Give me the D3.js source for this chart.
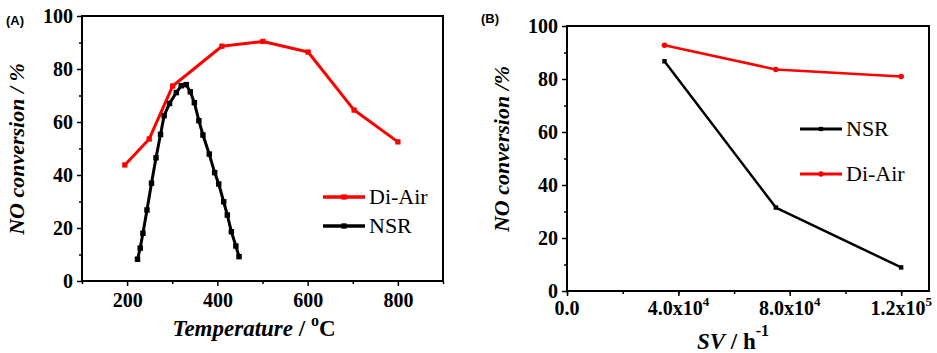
<!DOCTYPE html>
<html>
<head>
<meta charset="utf-8">
<script src="https://cdn.jsdelivr.net/npm/d3@7"></script>
</head>
<body style="margin:0;background:#fff">
<svg width="937" height="353" style="display:block"></svg>
<script>
"use strict";

// panel A: NO conversion vs temperature
var diAirTemp = [195, 249, 301, 410, 501, 601, 703, 800];
var diAirConvA = [43.8, 53.6, 73.6, 88.6, 90.4, 86.4, 64.5, 52.5];

var nsrTemp = [223, 229, 235, 244, 254, 264, 274, 282, 294, 309, 320, 331,
               340, 349, 359, 368, 382, 394, 403, 414, 422, 431, 441, 448];
var nsrConvA = [8.2, 12.4, 18.0, 26.8, 36.9, 46.5, 55.3, 62.4, 67.0, 71.1, 73.7, 74.1,
                71.4, 67.3, 60.5, 55.1, 47.9, 40.9, 36.6, 29.9, 24.9, 18.6, 13.2, 9.2];

// panel B: NO conversion vs space velocity
var svValues = [35000, 75000, 120000];
var nsrConvB = [86.7, 31.5, 8.9];
var diAirConvB = [92.7, 83.6, 80.9];

var yTicks = [0, 20, 40, 60, 80, 100];
var xTicksA = [200, 400, 600, 800];
var xTicksB = [0, 40000, 80000, 120000];
var xTickTextB = [["0.0", ""], ["4.0x10", "4"], ["8.0x10", "4"], ["1.2x10", "5"]];

var SERIF = "Liberation Serif";
var SANS = "Liberation Sans";

var svg = d3.select("svg");

function boldLabels(sel) {
  sel.attr("font-family", SERIF).attr("font-weight", "bold")
    .attr("font-size", 20).attr("fill", "#000");
}

function panel(o) {
  var x = d3.scaleLinear().domain(o.xDomain).range([o.left, o.right]);
  var y = d3.scaleLinear().domain([0, 100]).range([o.bottom, o.top]);
  var g = svg.append("g");

  // minor ticks
  g.append("g").attr("transform", "translate(0," + o.bottom + ")")
    .call(d3.axisBottom(x).tickValues(o.xMinor).tickSize(3).tickFormat(""))
    .call(function (s) { s.select(".domain").remove(); s.selectAll("line").attr("stroke-width", 1.5); });
  g.append("g").attr("transform", "translate(" + o.left + ",0)")
    .call(d3.axisLeft(y).tickValues(d3.range(10, 100, 20)).tickSize(3).tickFormat(""))
    .call(function (s) { s.select(".domain").remove(); s.selectAll("line").attr("stroke-width", 1.5); });

  // major ticks
  var xa = g.append("g").attr("transform", "translate(0," + o.bottom + ")")
    .call(d3.axisBottom(x).tickValues(o.xTicks).tickSize(5).tickPadding(6).tickFormat(o.xFormat || d3.format("d")));
  xa.attr("font-family", SERIF).attr("font-size", 20).attr("font-weight", "bold");
  xa.select(".domain").remove();
  xa.selectAll("line").attr("stroke-width", 1.5);
  xa.selectAll("text").call(boldLabels).attr("dy", "0.75em");

  var ya = g.append("g").attr("transform", "translate(" + o.left + ",0)")
    .call(d3.axisLeft(y).tickValues(yTicks).tickSize(5).tickPadding(4));
  ya.attr("font-family", SERIF).attr("font-size", 20).attr("font-weight", "bold");
  ya.select(".domain").remove();
  ya.selectAll("line").attr("stroke-width", 1.5);
  ya.selectAll("text").call(boldLabels);

  g.append("rect")
    .attr("x", o.left).attr("y", o.top)
    .attr("width", o.right - o.left).attr("height", o.bottom - o.top)
    .attr("fill", "none").attr("stroke", "#000").attr("stroke-width", 2);

  return { g: g, x: x, y: y };
}

function series(p, xs, ys, color, width, marker, msize) {
  var pts = xs.map(function (d, i) { return [d, ys[i]]; });
  var line = d3.line().x(function (d) { return p.x(d[0]); }).y(function (d) { return p.y(d[1]); });
  p.g.append("path").datum(pts)
    .attr("d", line).attr("fill", "none")
    .attr("stroke", color).attr("stroke-width", width).attr("stroke-linejoin", "round");
  var sym = d3.symbol().type(marker).size(msize);
  p.g.selectAll(null).data(pts).enter().append("path")
    .attr("d", sym)
    .attr("transform", function (d) { return "translate(" + p.x(d[0]) + "," + p.y(d[1]) + ")"; })
    .attr("fill", color);
}

function legendItem(x0, y0, color, width, marker, msize, label) {
  svg.append("line").attr("x1", x0).attr("x2", x0 + 42).attr("y1", y0).attr("y2", y0)
    .attr("stroke", color).attr("stroke-width", width);
  svg.append("path").attr("d", d3.symbol().type(marker).size(msize))
    .attr("transform", "translate(" + (x0 + 21) + "," + y0 + ")").attr("fill", color);
  svg.append("text").attr("x", x0 + 46).attr("y", y0 + 7)
    .attr("font-family", SERIF).attr("font-size", 22).text(label);
}

function title(x, y, rot, size) {
  return svg.append("text")
    .attr("transform", "translate(" + x + "," + y + ")" + (rot ? " rotate(-90)" : ""))
    .attr("text-anchor", "middle").attr("font-family", SERIF)
    .attr("font-size", size).attr("font-weight", "bold");
}

// ---- panel A ----
var pa = panel({
  left: 82, right: 443, top: 16, bottom: 281,
  xDomain: [100, 900], xTicks: xTicksA, xMinor: [100, 300, 500, 700, 900]
});
series(pa, diAirTemp, diAirConvA, "#ff0000", 3, d3.symbolSquare, 28);
series(pa, nsrTemp, nsrConvA, "#000", 3, d3.symbolSquare, 30);
legendItem(323, 197, "#ff0000", 3.5, d3.symbolSquare, 28, "Di-Air");
legendItem(323, 226, "#000", 3.5, d3.symbolSquare, 28, "NSR");

svg.append("text").attr("x", 6).attr("y", 25)
  .attr("font-family", SANS).attr("font-weight", "bold").attr("font-size", 13).text("(A)");

title(24, 149, true, 22).attr("font-style", "italic").text("NO conversion / %");

var ta = title(254, 336, false, 23);
ta.append("tspan").attr("font-style", "italic").text("Temperature");
ta.append("tspan").text(" / ");
ta.append("tspan").attr("font-size", 16).attr("dy", -10).text("o");
ta.append("tspan").attr("dy", 10).text("C");

// ---- panel B ----
var pb = panel({
  left: 567, right: 929, top: 26, bottom: 291,
  xDomain: [0, 130000], xTicks: xTicksB, xMinor: d3.range(0, 130001, 20000),
  xFormat: function () { return ""; }
});
pb.g.selectAll(null).data(xTicksB).enter().append("text")
  .call(boldLabels)
  .attr("x", function (d) { return pb.x(d); }).attr("y", 315)
  .attr("text-anchor", "middle")
  .each(function (d, i) {
    var t = d3.select(this);
    t.append("tspan").text(xTickTextB[i][0]);
    if (xTickTextB[i][1]) t.append("tspan").attr("font-size", 13).attr("dy", -9).text(xTickTextB[i][1]);
  });

series(pb, svValues, nsrConvB, "#000", 2.5, d3.symbolSquare, 20);
series(pb, svValues, diAirConvB, "#ff0000", 2.5, d3.symbolCircle, 24);
legendItem(800, 129, "#000", 3, d3.symbolSquare, 18, "NSR");
legendItem(800, 174, "#ff0000", 3, d3.symbolCircle, 22, "Di-Air");

svg.append("text").attr("x", 481).attr("y", 23)
  .attr("font-family", SANS).attr("font-weight", "bold").attr("font-size", 13).text("(B)");

title(509, 149, true, 22).attr("font-style", "italic").text("NO conversion /%");

var tb = title(733, 349, false, 23);
tb.append("tspan").attr("font-style", "italic").text("SV");
tb.append("tspan").text(" / h");
tb.append("tspan").attr("font-size", 16).attr("dy", -13).text("-1");
</script>
</body>
</html>
